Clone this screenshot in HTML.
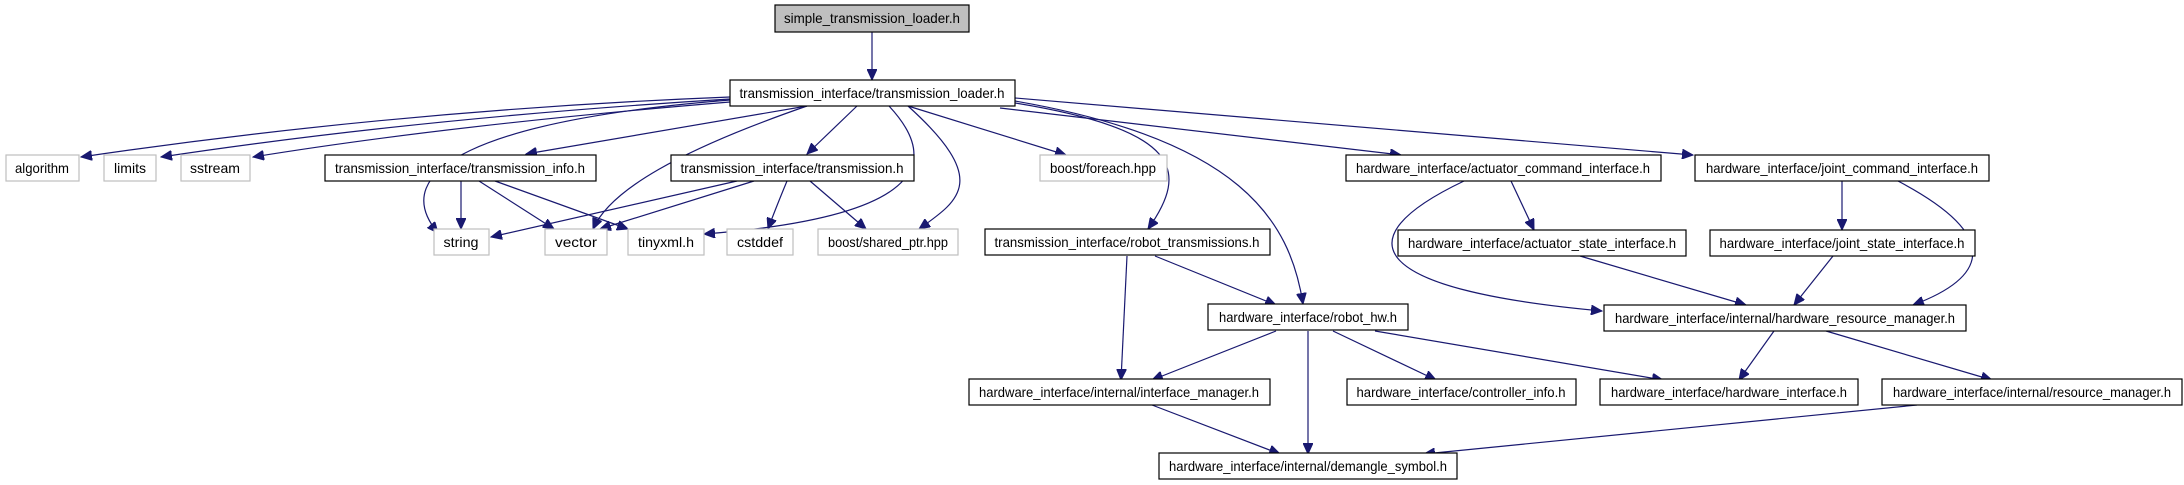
<!DOCTYPE html>
<html><head><meta charset="utf-8"><style>
html,body{margin:0;padding:0;background:#fff;}
svg{display:block;}
text{font-family:"Liberation Sans",Arial,sans-serif;font-size:14px;fill:#000;}
</style></head><body>
<svg width="2184" height="485" viewBox="0 0 2184 485" xmlns="http://www.w3.org/2000/svg">
<defs>
<marker id="a" markerUnits="userSpaceOnUse" markerWidth="12" markerHeight="10" refX="11" refY="5" orient="auto">
<path d="M0,0 L11,5 L0,10 Z" fill="#191970" stroke="#191970"/>
</marker>
</defs>
<g fill="none" stroke="#191970" stroke-width="1.2" marker-end="url(#a)">
<path d="M872,32 L872,80"/>
<path d="M730,97 Q400,110 81,157"/>
<path d="M730,99 Q420,118 161,157"/>
<path d="M730,102 Q450,125 253,157"/>
<path d="M730,100 C480,120 385,170 438,233"/>
<path d="M807,106 L526,154"/>
<path d="M807,106 C680,150 610,190 593,229"/>
<path d="M857,106 L807,154"/>
<path d="M889,106 C930,150 950,215 704,234"/>
<path d="M908,106 C990,180 960,200 919,229"/>
<path d="M908,106 L1066,155"/>
<path d="M1015,103 C1180,130 1190,170 1148,229"/>
<path d="M1015,101 C1240,140 1290,220 1303,304"/>
<path d="M1000,108 L1401,155"/>
<path d="M1015,98 L1693,155"/>
<path d="M461,181 L461,229"/>
<path d="M479,181 L554,229"/>
<path d="M495,181 L628,229"/>
<path d="M737,181 L491,237"/>
<path d="M754,181 L600,229"/>
<path d="M787,181 Q775,210 768,229"/>
<path d="M810,181 L866,229"/>
<path d="M1511,181 L1534,230"/>
<path d="M1464,181 C1340,240 1370,290 1602,311"/>
<path d="M1842,181 L1842,230"/>
<path d="M1898,181 C2010,240 1980,280 1913,305"/>
<path d="M1580,256 L1746,305"/>
<path d="M1833,256 L1794,305"/>
<path d="M1155,256 L1276,305"/>
<path d="M1127,256 L1121,380"/>
<path d="M1276,331 L1152,380"/>
<path d="M1308,331 L1308,454"/>
<path d="M1333,331 L1436,380"/>
<path d="M1375,331 L1663,380"/>
<path d="M1774,331 L1739,380"/>
<path d="M1826,331 L1992,380"/>
<path d="M1152,405 L1280,454"/>
<path d="M1917,405 L1424,454"/>
</g>
<g stroke-width="1.2">
<rect x="775" y="5" width="194" height="27" fill="#bfbfbf" stroke="#000"/>
<rect x="730" y="80" width="285" height="26" fill="#fff" stroke="#000"/>
<rect x="6" y="155" width="73" height="26" fill="#fff" stroke="#bfbfbf"/>
<rect x="104" y="155" width="52" height="26" fill="#fff" stroke="#bfbfbf"/>
<rect x="181" y="155" width="69" height="26" fill="#fff" stroke="#bfbfbf"/>
<rect x="325" y="155" width="271" height="26" fill="#fff" stroke="#000"/>
<rect x="671" y="155" width="243" height="26" fill="#fff" stroke="#000"/>
<rect x="1040" y="155" width="127" height="26" fill="#fff" stroke="#bfbfbf"/>
<rect x="1346" y="155" width="315" height="26" fill="#fff" stroke="#000"/>
<rect x="1695" y="155" width="294" height="26" fill="#fff" stroke="#000"/>
<rect x="434" y="229" width="55" height="26" fill="#fff" stroke="#bfbfbf"/>
<rect x="545" y="229" width="62" height="26" fill="#fff" stroke="#bfbfbf"/>
<rect x="628" y="229" width="76" height="26" fill="#fff" stroke="#bfbfbf"/>
<rect x="727" y="229" width="66" height="26" fill="#fff" stroke="#bfbfbf"/>
<rect x="818" y="229" width="140" height="26" fill="#fff" stroke="#bfbfbf"/>
<rect x="985" y="229" width="285" height="26" fill="#fff" stroke="#000"/>
<rect x="1398" y="230" width="288" height="26" fill="#fff" stroke="#000"/>
<rect x="1710" y="230" width="265" height="26" fill="#fff" stroke="#000"/>
<rect x="1208" y="304" width="200" height="26" fill="#fff" stroke="#000"/>
<rect x="1604" y="305" width="362" height="26" fill="#fff" stroke="#000"/>
<rect x="969" y="379" width="301" height="26" fill="#fff" stroke="#000"/>
<rect x="1347" y="379" width="229" height="26" fill="#fff" stroke="#000"/>
<rect x="1600" y="379" width="258" height="26" fill="#fff" stroke="#000"/>
<rect x="1882" y="379" width="300" height="26" fill="#fff" stroke="#000"/>
<rect x="1159" y="453" width="298" height="26" fill="#fff" stroke="#000"/>
</g>
<g text-anchor="middle">
<text x="872" y="23" textLength="176" lengthAdjust="spacingAndGlyphs">simple_transmission_loader.h</text>
<text x="872" y="98" textLength="265" lengthAdjust="spacingAndGlyphs">transmission_interface/transmission_loader.h</text>
<text x="42" y="173" textLength="54" lengthAdjust="spacingAndGlyphs">algorithm</text>
<text x="130" y="173" textLength="32" lengthAdjust="spacingAndGlyphs">limits</text>
<text x="215" y="173" textLength="50" lengthAdjust="spacingAndGlyphs">sstream</text>
<text x="460" y="173" textLength="250" lengthAdjust="spacingAndGlyphs">transmission_interface/transmission_info.h</text>
<text x="792" y="173" textLength="223" lengthAdjust="spacingAndGlyphs">transmission_interface/transmission.h</text>
<text x="1103" y="173" textLength="106" lengthAdjust="spacingAndGlyphs">boost/foreach.hpp</text>
<text x="1503" y="173" textLength="294" lengthAdjust="spacingAndGlyphs">hardware_interface/actuator_command_interface.h</text>
<text x="1842" y="173" textLength="272" lengthAdjust="spacingAndGlyphs">hardware_interface/joint_command_interface.h</text>
<text x="461" y="247" textLength="35" lengthAdjust="spacingAndGlyphs">string</text>
<text x="576" y="247" textLength="42" lengthAdjust="spacingAndGlyphs">vector</text>
<text x="666" y="247" textLength="56" lengthAdjust="spacingAndGlyphs">tinyxml.h</text>
<text x="760" y="247" textLength="46" lengthAdjust="spacingAndGlyphs">cstddef</text>
<text x="888" y="247" textLength="120" lengthAdjust="spacingAndGlyphs">boost/shared_ptr.hpp</text>
<text x="1127" y="247" textLength="265" lengthAdjust="spacingAndGlyphs">transmission_interface/robot_transmissions.h</text>
<text x="1542" y="248" textLength="268" lengthAdjust="spacingAndGlyphs">hardware_interface/actuator_state_interface.h</text>
<text x="1842" y="248" textLength="245" lengthAdjust="spacingAndGlyphs">hardware_interface/joint_state_interface.h</text>
<text x="1308" y="322" textLength="178" lengthAdjust="spacingAndGlyphs">hardware_interface/robot_hw.h</text>
<text x="1785" y="323" textLength="340" lengthAdjust="spacingAndGlyphs">hardware_interface/internal/hardware_resource_manager.h</text>
<text x="1119" y="397" textLength="280" lengthAdjust="spacingAndGlyphs">hardware_interface/internal/interface_manager.h</text>
<text x="1461" y="397" textLength="209" lengthAdjust="spacingAndGlyphs">hardware_interface/controller_info.h</text>
<text x="1729" y="397" textLength="236" lengthAdjust="spacingAndGlyphs">hardware_interface/hardware_interface.h</text>
<text x="2032" y="397" textLength="278" lengthAdjust="spacingAndGlyphs">hardware_interface/internal/resource_manager.h</text>
<text x="1308" y="471" textLength="278" lengthAdjust="spacingAndGlyphs">hardware_interface/internal/demangle_symbol.h</text>
</g>
</svg>
</body></html>
